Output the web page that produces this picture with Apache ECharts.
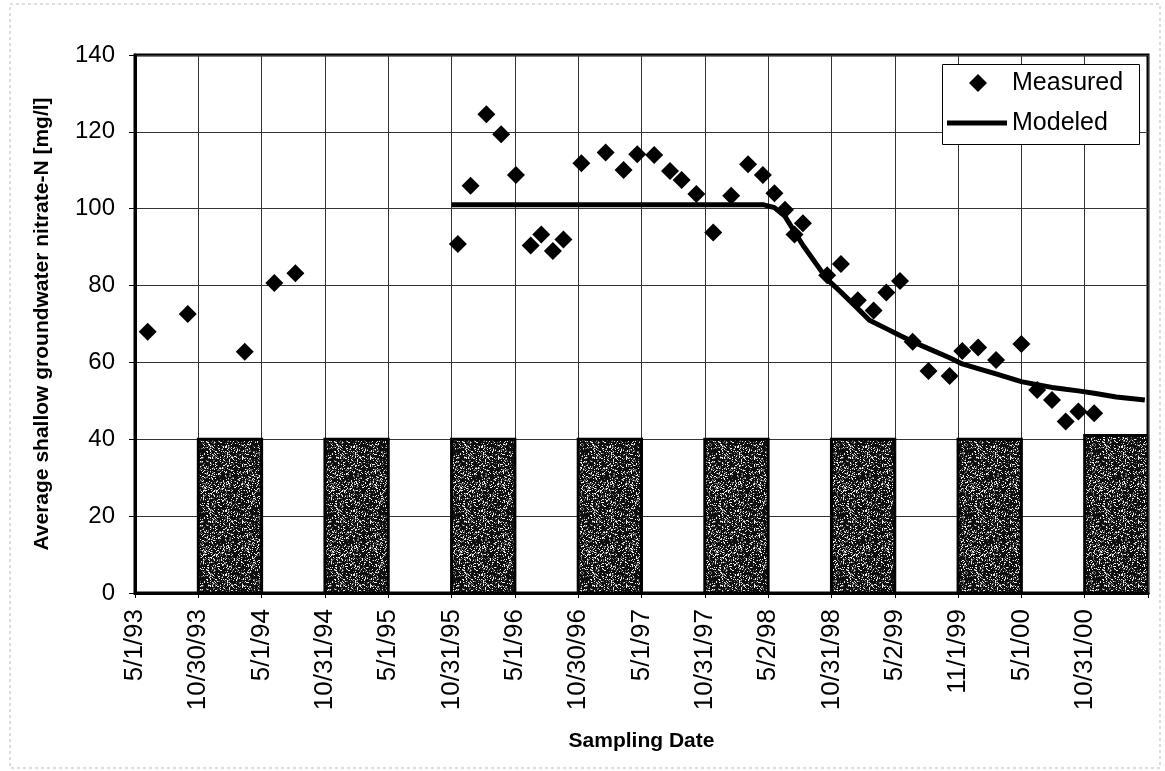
<!DOCTYPE html>
<html>
<head>
<meta charset="utf-8">
<script src="https://cdn.jsdelivr.net/npm/echarts@6/dist/echarts.min.js"></script>
<style>
html,body{margin:0;padding:0;background:#fff;}
#chart{width:1165px;height:771px;}
</style>
</head>
<body>
<div id="chart"></div>
<script>
// x values are months after 5/1/93 (one tick every 6 months)
const tickLabels = ['5/1/93','10/30/93','5/1/94','10/31/94','5/1/95','10/31/95','5/1/96','10/30/96','5/1/97','10/31/97','5/2/98','10/31/98','5/2/99','11/1/99','5/1/00','10/31/00',''];

const measuredMonths = [1.2,5.0,10.4,13.2,15.2,30.6,31.8,33.3,34.7,36.1,37.5,38.5,39.6,40.6,42.3,44.6,46.3,47.6,49.2,50.7,51.8,53.2,54.8,56.5,58.1,59.5,60.6,61.6,62.5,63.3,65.6,66.9,68.5,70.0,71.2,72.5,73.7,75.2,77.2,78.4,79.9,81.6,84.0,85.5,86.9,88.2,89.4,90.9];
const measuredValues = [68.0,72.6,62.8,80.7,83.2,90.8,106.0,124.6,119.4,108.8,90.4,93.3,89.0,92.0,111.8,114.6,110.1,114.2,114.0,109.8,107.5,103.8,93.8,103.4,111.6,108.8,104.0,99.7,93.3,96.2,82.7,85.6,76.2,73.5,78.2,81.2,65.4,57.8,56.5,63.0,63.9,60.6,64.8,52.8,50.2,44.6,47.2,46.8];

const modeledMonths = [30,59.6,60.6,61.6,62.5,63.3,65.6,66.9,68.5,69.6,71.2,72.5,73.7,75.2,77.2,78.4,79.9,81.6,84.0,85.5,86.9,88.2,89.4,90.9,93.0,95.7];
const modeledValues = [101,101,100.3,98,94,90.5,81.6,78.3,74,71,68.8,67,65.4,63.6,61.2,59.6,58.4,57,55,54.2,53.5,53,52.6,52,51,50.2];

const winterStart = [6,18,30,42,54,66,78,90];
const winterEnd = [12,24,36,48,60,72,84,96];
const winterLevel = [40,40,40,40,40,40,40,41];

// speckled texture for the shaded blocks
function makeTexture(){
  const c = document.createElement('canvas');
  c.width = 64; c.height = 64;
  const ctx = c.getContext('2d');
  const img = ctx.createImageData(64,64);
  let s = 12345;
  for (let i = 0; i < 64*64; i++) {
    s = (s * 1103515245 + 12345) & 0x7fffffff;
    const v = s / 0x7fffffff;
    const g = v < 0.72 ? 15 : (v < 0.86 ? 110 : 235);
    img.data[i*4] = g; img.data[i*4+1] = g; img.data[i*4+2] = g; img.data[i*4+3] = 255;
  }
  ctx.putImageData(img,0,0);
  return c;
}
const texture = {image: makeTexture(), repeat: 'repeat'};

const font = 'Liberation Sans, Arial, sans-serif';
const legendText = {fontFamily: font, fontSize: 25, color: '#000', lineHeight: 26};
const chart = echarts.init(document.getElementById('chart'), null, {renderer:'canvas'});

chart.setOption({
  animation: false,
  backgroundColor: '#fff',
  graphic: [{
    type: 'rect', silent: true, z: -10,
    shape: {x: 10, y: 4, width: 1150, height: 764},
    style: {fill: 'none', stroke: '#bbb', lineWidth: 1, lineDash: [3,3]}
  }, {
    type: 'rect', silent: true, z: 50,
    shape: {x: 942.5, y: 64.5, width: 197, height: 80},
    style: {fill: '#fff', stroke: '#000', lineWidth: 1}
  }],
  grid: {left: 135, right: 17, top: 55, bottom: 178, show: true, borderColor: '#000', borderWidth: 3},
  legend: [{
    orient: 'vertical', left: 969, top: 70, padding: 0, z: 60,
    itemWidth: 18, itemHeight: 18, icon: 'diamond',
    itemStyle: {color: '#000', opacity: 1},
    textStyle: Object.assign({padding: [0, 0, 0, 20]}, legendText),
    data: ['Measured']
  }, {
    orient: 'vertical', left: 947, top: 110, padding: 0, z: 60,
    itemWidth: 60, itemHeight: 5, icon: 'rect',
    itemStyle: {color: '#000', opacity: 1},
    textStyle: legendText,
    data: ['Modeled']
  }],
  xAxis: {
    type: 'value', min: 0, max: 96, interval: 6,
    name: 'Sampling Date', nameLocation: 'middle', nameGap: 138,
    nameTextStyle: {fontFamily: font, fontSize: 21, fontWeight: 'bold', color: '#000'},
    axisLine: {show: true, onZero: false, lineStyle: {color: '#000', width: 3}},
    axisTick: {show: true, length: 5, lineStyle: {color: '#000', width: 1}},
    axisLabel: {
      rotate: 90, margin: 16, fontFamily: font, fontSize: 26, color: '#000',
      padding: [0, 0, 16, 0],
      formatter: v => tickLabels[Math.round(v / 6)] || ''
    },
    splitLine: {show: true, lineStyle: {color: '#333', width: 1}}
  },
  yAxis: {
    type: 'value', min: 0, max: 140, interval: 20,
    name: 'Average shallow groundwater nitrate-N [mg/l]', nameLocation: 'middle', nameGap: 82,
    nameTextStyle: {fontFamily: font, fontSize: 21, fontWeight: 'bold', color: '#000'},
    axisLine: {show: true, lineStyle: {color: '#000', width: 3}},
    axisTick: {show: true, length: 6, lineStyle: {color: '#000', width: 1}},
    axisLabel: {margin: 20, fontFamily: font, fontSize: 24, color: '#000'},
    splitLine: {show: true, lineStyle: {color: '#333', width: 1}}
  },
  series: [
    {
      name: 'Winter', type: 'custom', clip: true, z: 1,
      data: winterStart.map((s, i) => [s, winterEnd[i], winterLevel[i]]),
      encode: {x: [0, 1], y: 2},
      renderItem: function (params, api) {
        const tl = api.coord([api.value(0), api.value(2)]);
        const br = api.coord([api.value(1), 0]);
        return {
          type: 'rect',
          shape: {x: tl[0], y: tl[1], width: br[0] - tl[0], height: br[1] - tl[1]},
          style: {fill: texture, stroke: '#000', lineWidth: 3}
        };
      }
    },
    {
      name: 'Modeled', type: 'line', z: 3,
      data: modeledMonths.map((m, i) => [m, modeledValues[i]]),
      symbol: 'none', smooth: false,
      lineStyle: {color: '#000', width: 5},
      itemStyle: {color: '#000'}
    },
    {
      name: 'Measured', type: 'scatter', z: 4,
      data: measuredMonths.map((m, i) => [m, measuredValues[i]]),
      symbol: 'diamond', symbolSize: 18,
      itemStyle: {color: '#000', opacity: 1}
    }
  ]
});
</script>
</body>
</html>
